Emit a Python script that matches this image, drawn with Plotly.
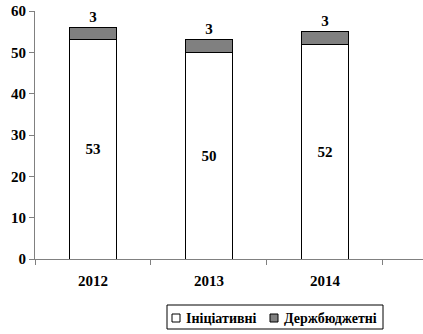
import plotly.graph_objects as go

years = ["2012", "2013", "2014"]
initiative = [53, 50, 52]
state_budget = [3, 3, 3]
series_names = ["Ініціативні", "Держбюджетні"]
series_colors = ["white", "#808080"]

def f(size=15):
    return dict(family="Liberation Serif", size=size, color="black", weight="bold")

W, H = 423, 334
L, R, T, B = 35, 0, 11, 75
pw, ph = W - L - R, H - T - B

def px(x):
    return (x - L) / pw

def py(y):
    return (H - B - y) / ph

fig = go.Figure()
fig.add_trace(go.Bar(
    x=years, y=initiative, name=series_names[0],
    marker=dict(color=series_colors[0], line=dict(color="black", width=1)),
    text=[str(v) for v in initiative], textposition="inside",
    insidetextanchor="middle",
    textfont=f(), insidetextfont=f(),
))
fig.add_trace(go.Bar(
    x=years, y=state_budget, name=series_names[1],
    marker=dict(color=series_colors[1], line=dict(color="black", width=1)),
    text=[str(v) for v in state_budget], textposition="outside",
    textfont=f(), outsidetextfont=f(),
    cliponaxis=False,
))

# manual legend (boxed, compact like the reference)
shapes = [dict(type="rect", xref="paper", yref="paper",
               x0=px(167), x1=px(383), y0=py(305), y1=py(329),
               line=dict(color="black", width=1), fillcolor="white")]
annotations = []
item_x = [172, 270]
for i, name in enumerate(series_names):
    x0 = item_x[i]
    shapes.append(dict(type="rect", xref="paper", yref="paper",
                       x0=px(x0), x1=px(x0 + 8), y0=py(314), y1=py(322),
                       line=dict(color="black", width=1),
                       fillcolor=series_colors[i]))
    annotations.append(dict(xref="paper", yref="paper", x=px(x0 + 12), y=py(318),
                            xanchor="left", yanchor="middle", showarrow=False,
                            text=name, font=f(14)))

fig.update_layout(
    barmode="stack",
    width=W, height=H,
    margin=dict(l=L, r=R, t=T, b=B),
    paper_bgcolor="white", plot_bgcolor="white",
    font=f(),
    bargap=0.6,
    showlegend=False,
    shapes=shapes,
    annotations=annotations,
    uniformtext=dict(minsize=8, mode="show"),
)
fig.update_xaxes(
    type="category", range=[-0.5, 2.845], automargin=False,
    showline=True, linecolor="#808080", linewidth=1,
    ticks="outside", tickson="boundaries", ticklen=5, tickcolor="#808080",
    showgrid=False, zeroline=False,
    tickfont=f(), ticklabelstandoff=8,
)
fig.update_yaxes(
    range=[0, 60], dtick=10, automargin=False,
    showline=True, linecolor="#808080", linewidth=1,
    ticks="outside", ticklen=5, tickcolor="#808080",
    showgrid=False, zeroline=False,
    tickfont=f(),
)

fig.write_html("out.html", config={"displayModeBar": False},
               post_script="document.body.style.margin='0';")
